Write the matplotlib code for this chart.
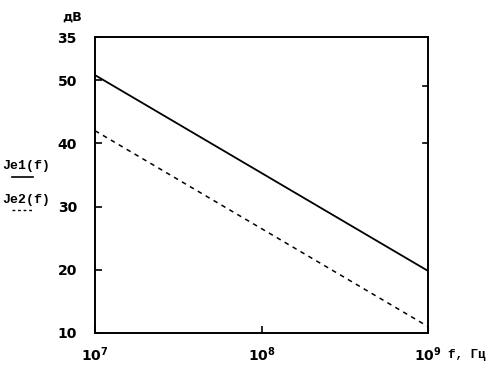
import numpy as np
import matplotlib
matplotlib.use("Agg")
import matplotlib.pyplot as plt

# frequency points (Hz) and levels (dB)
freq = [1e7, 1e8, 1e9]
je1 = [50.8, 35.3, 19.8]
je2 = [42.0, 26.5, 11.0]

y_ticks = [10, 20, 30, 40, 50, 56.8]
y_labels = ["10", "20", "30", "40", "50", "35"]
x_ticks = [1e7, 1e8, 1e9]
x_labels = ["$\\mathbf{10^7}$", "$\\mathbf{10^8}$", "$\\mathbf{10^9}$"]

fig = plt.figure(figsize=(4.95, 3.72), dpi=100)
ax = fig.add_axes([0.192, 0.105, 0.673, 0.795])

ax.plot(freq, je1, color="black", lw=1.3)
ax.plot(freq, je2, color="black", lw=1.1, linestyle=(0, (3, 3)))

ax.set_xscale("log")
ax.set_xlim(1e7, 1e9)
ax.set_ylim(10, 56.8)
ax.minorticks_off()

ax.set_xticks(x_ticks)
ax.set_xticklabels(x_labels)
ax.set_yticks(y_ticks)
ax.set_yticklabels(y_labels)
ax.tick_params(direction="in", length=5, width=1.2, labelsize=10, pad=19)
for lbl in ax.get_yticklabels():
    lbl.set_fontweight("bold")
ax.tick_params(axis="y", pad=13)
ax.tick_params(axis="x", pad=9)

# small marks on the right edge
for v in [49, 40]:
    ax.plot([0.985, 1.0], [v, v], transform=ax.get_yaxis_transform(),
            color="black", lw=1.2, clip_on=False)

for s in ax.spines.values():
    s.set_linewidth(1.4)

fig.text(0.125, 0.955, "дВ", fontsize=9, fontweight="bold", ha="left", va="center")
fig.text(0.905, 0.045, "f, Гц", fontsize=9, fontweight="bold",
         family="Liberation Mono", ha="left", va="center")

# legend drawn by hand, as in the original
fig.text(0.005, 0.555, "Je1(f)", fontsize=9.5, fontweight="bold",
         family="Liberation Mono", ha="left", va="center")
fig.lines.append(plt.Line2D([0.024, 0.066], [0.523, 0.523], color="black",
                            lw=1.2, transform=fig.transFigure))
fig.text(0.005, 0.463, "Je2(f)", fontsize=9.5, fontweight="bold",
         family="Liberation Mono", ha="left", va="center")
fig.lines.append(plt.Line2D([0.024, 0.066], [0.435, 0.435], color="black",
                            lw=1.0, linestyle=(0, (2, 2)),
                            transform=fig.transFigure))

fig.savefig("out.png", dpi=100)
